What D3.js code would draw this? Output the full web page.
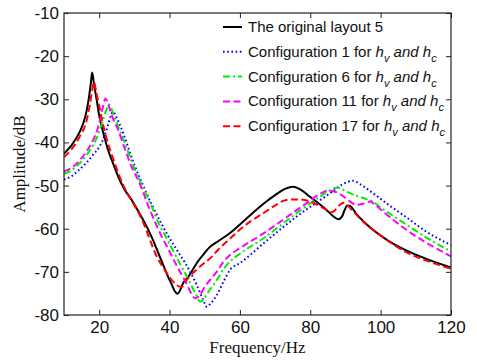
<!DOCTYPE html>
<html>
<head>
<meta charset="utf-8">
<script src="https://cdn.jsdelivr.net/npm/d3@7"></script>
<style>
  body { margin: 0; background: #fff; }
  svg { display: block; }
</style>
</head>
<body>
<svg id="chart" width="477" height="360"></svg>
<script>
// series values, [frequency Hz, amplitude dB]
const originalLayout = [
  [10,-42.6],[12,-40.8],[14.5,-37.5],[15.5,-35.5],[16.4,-32.8],[17.1,-29.5],[17.6,-26.5],[18,-23.8],
  [18.5,-26.3],[19.3,-30.2],[20.2,-34.6],[21,-37.3],[21.7,-39.4],[22.5,-41.7],[23.6,-44.1],[25.4,-47.9],
  [27,-50.6],[29.2,-53.3],[31,-55.8],[33,-58.7],[34.9,-61.9],[36.5,-65],[38.2,-68.4],[39.5,-71],
  [40.6,-72.9],[41.5,-74.5],[42.2,-75.1],[42.8,-74.6],[43.8,-72.7],[45.8,-70.6],[47.7,-68],[49.6,-66],
  [51,-64.6],[54,-62.8],[57.2,-61],[60,-59],[63,-56.8],[66.7,-54.2],[70,-52.2],[73,-50.7],[75,-50.3],
  [77,-50.8],[79.9,-52.6],[82.5,-54.2],[84.7,-55.7],[86.5,-57.1],[88,-57.8],[89,-57.2],[89.8,-55.6],
  [90.5,-54.6],[91.3,-54.7],[93,-56.5],[95,-58.2],[97.9,-60.3],[102,-62.7],[107.4,-65.1],[113,-67],[120,-69]
];
const config1 = [
  [10,-48.6],[12,-47.9],[14.5,-46.2],[16.5,-44.6],[18.3,-42.8],[20.2,-40.8],[21.5,-38.5],[22.5,-36],
  [23.3,-33.8],[24,-32.9],[24.7,-33.8],[25.5,-35.2],[26.9,-38],[28.5,-41.8],[30.2,-45.6],[32.5,-50],
  [35,-54.5],[37.8,-59],[40,-62.2],[42,-64.8],[44.9,-68.6],[47.7,-73],[49.5,-76.4],[50.6,-78.1],
  [51.5,-77.5],[53.4,-75.4],[55.5,-72],[57.2,-69.5],[60,-68],[66.7,-63.4],[76.1,-57.2],[85.6,-51.8],
  [89,-49.8],[92.2,-48.9],[94,-49.6],[97.9,-51.8],[102,-54.3],[107.4,-57.4],[113,-60.7],[120,-63.8]
];
const config6 = [
  [10,-47.3],[12,-46.5],[14.5,-44.8],[16.5,-42.8],[18.3,-40.6],[20,-37.5],[21,-35],[22,-32.5],
  [22.8,-31.2],[23.5,-32.2],[24.3,-34],[25.5,-36.5],[27,-39.6],[28.5,-42.8],[30,-46],[32.5,-50.5],
  [35,-55],[36.8,-58.6],[38.5,-61.2],[40.5,-64.3],[43,-68.2],[45.5,-72],[47.5,-75.2],[48.7,-76.9],
  [49.5,-76.5],[51,-74.7],[53.4,-71.9],[55.5,-69.2],[57.2,-67.6],[60,-65.8],[66.7,-62.2],[76.1,-56.4],
  [82,-53],[85,-51.4],[87.5,-50.5],[88.5,-50.6],[90,-51.3],[92,-52],[94,-52.6],[95.5,-53],[97.5,-53.6],
  [100,-55.1],[103.5,-57],[107.4,-59.1],[113.5,-62.3],[120,-65.3]
];
const config11 = [
  [10,-46.7],[12,-46],[14.5,-44.1],[16.5,-42],[18.3,-39.4],[19.5,-37],[20.3,-34.5],[21,-32],
  [21.8,-29.8],[22.5,-31],[23.3,-33],[24.3,-35.2],[25.4,-37.1],[27,-40.8],[29.2,-45.6],[31.5,-49.5],
  [34,-54.8],[35.9,-58.5],[37.3,-61],[40,-65.3],[42.5,-69.3],[45,-73],[46.3,-75.2],[47.2,-76.1],
  [48.5,-75.5],[50,-73.5],[53.4,-70],[55.5,-67.5],[57.2,-66.1],[60,-64.5],[66.7,-61.1],[76.1,-55.7],
  [80,-53.5],[83,-51.8],[85,-51.2],[86.5,-51.3],[88.9,-52.2],[91,-53.5],[93.2,-54.5],[95,-54.2],
  [97,-53.7],[98.5,-54.5],[100.8,-56.1],[104,-58.2],[107.4,-60.3],[113.5,-63.5],[120,-66.4]
];
const config17 = [
  [10,-43.4],[12,-41.7],[14.5,-38.6],[16.4,-35],[17.3,-31.5],[18,-28],[18.5,-26],[19.2,-28.5],
  [20,-31.5],[21,-35.5],[22,-38.8],[23,-41.5],[24,-43.8],[25.5,-47.3],[27,-50.2],[29.2,-53.5],
  [31,-56],[33,-59.5],[34.4,-62.5],[36,-65.8],[38.2,-69],[40,-71.2],[41.8,-72.9],[43.4,-73.5],
  [44.3,-72.6],[45.5,-71.2],[47.7,-69.5],[49.5,-68.2],[51.5,-66.9],[54,-64.7],[57.2,-62.3],[60,-60.2],
  [63,-58.3],[66.7,-56.4],[70,-54.6],[72.5,-53.5],[74.5,-53.2],[77,-53.2],[80,-53.7],[83,-54.9],
  [85,-55.8],[86.2,-56.1],[87.3,-55.5],[88.5,-54.4],[89.5,-54],[90.5,-54.5],[92,-55.8],[94,-57.5],
  [97,-59.8],[100,-61.6],[107.4,-65.5],[113,-67.4],[120,-69.3]
];

const xTicks = [20, 40, 60, 80, 100, 120];
const yTicks = [-80, -70, -60, -50, -40, -30, -20, -10];
const legendNames = [
  "The original layout 5",
  "Configuration 1 for",
  "Configuration 6 for",
  "Configuration 11 for",
  "Configuration 17 for"
];

const margin = {top: 13, right: 26, bottom: 45, left: 64};
const width = 477 - margin.left - margin.right;
const height = 360 - margin.top - margin.bottom;

const svg = d3.select("#chart");
const g = svg.append("g")
  .attr("transform", `translate(${margin.left},${margin.top})`);

const x = d3.scaleLinear().domain([10, 120]).range([0, width]);
const y = d3.scaleLinear().domain([-80, -10]).range([height, 0]);

const tickFont = "'Liberation Sans', Arial, sans-serif";
const plain = d => String(d); // keep the ascii hyphen like the original

// axes, ticks pointing inward like matlab
function styleAxis(sel, showText) {
  sel.select(".domain").remove();
  sel.selectAll(".tick line").attr("stroke", "#222").attr("stroke-width", 1);
  sel.selectAll(".tick text")
    .style("font-family", tickFont)
    .style("font-size", "17px")
    .attr("fill", "#111")
    .style("display", showText ? null : "none");
}

g.append("g")
  .attr("transform", `translate(0,${height})`)
  .call(d3.axisBottom(x).tickValues(xTicks).tickFormat(plain).tickSizeInner(-5).tickSizeOuter(0).tickPadding(6))
  .call(s => styleAxis(s, true));
g.append("g")
  .call(d3.axisTop(x).tickValues(xTicks).tickSizeInner(-5).tickSizeOuter(0))
  .call(s => styleAxis(s, false));
g.append("g")
  .call(d3.axisLeft(y).tickValues(yTicks).tickFormat(plain).tickSizeInner(-5).tickSizeOuter(0).tickPadding(5))
  .call(s => styleAxis(s, true));
g.append("g")
  .attr("transform", `translate(${width},0)`)
  .call(d3.axisRight(y).tickValues(yTicks).tickSizeInner(-5).tickSizeOuter(0))
  .call(s => styleAxis(s, false));

const line = d3.line()
  .x(d => x(d[0]))
  .y(d => y(d[1]))
  .curve(d3.curveMonotoneX);

const series = [
  {data: originalLayout, color: "#000000", dash: null},
  {data: config1, color: "#0000ff", dash: "1.6,2.6"},
  {data: config6, color: "#00ee00", dash: "7,3,2,3"},
  {data: config11, color: "#ff00ff", dash: "7,3.5"},
  {data: config17, color: "#ff0000", dash: "7,3.5"}
];

const clip = svg.append("defs").append("clipPath").attr("id", "plotclip");
clip.append("rect").attr("width", width).attr("height", height);

g.append("g").attr("clip-path", "url(#plotclip)")
  .selectAll("path")
  .data(series)
  .enter().append("path")
    .attr("d", d => line(d.data))
    .attr("fill", "none")
    .attr("stroke", d => d.color)
    .attr("stroke-width", 2)
    .attr("stroke-dasharray", d => d.dash);

// box
g.append("rect")
  .attr("width", width).attr("height", height)
  .attr("fill", "none").attr("stroke", "#222").attr("stroke-width", 1.2);

// legend
const legend = g.append("g").attr("transform", "translate(159,14)");
const rows = legend.selectAll("g")
  .data(series)
  .enter().append("g")
    .attr("transform", (d, i) => `translate(0,${i * 24.8})`);
rows.append("line")
  .attr("x1", 0).attr("x2", 19)
  .attr("stroke", d => d.color)
  .attr("stroke-width", 2)
  .attr("stroke-dasharray", d => d.dash);
const labels = rows.append("text")
  .attr("x", 25).attr("y", 5)
  .style("font-family", tickFont)
  .style("font-size", "15px")
  .attr("fill", "#111");
labels.append("tspan").text((d, i) => legendNames[i]);
labels.filter((d, i) => i > 0).each(function() {
  const t = d3.select(this);
  t.append("tspan").text(" h").style("font-style", "italic");
  t.append("tspan").text("v").style("font-style", "italic").style("font-size", "11px").attr("dy", 5);
  t.append("tspan").text(" and h").style("font-style", "italic").attr("dy", -5);
  t.append("tspan").text("c").style("font-style", "italic").style("font-size", "11px").attr("dy", 5);
});

// axis titles
svg.append("text")
  .attr("x", margin.left + width / 2)
  .attr("y", 353)
  .attr("text-anchor", "middle")
  .style("font-family", "'Liberation Serif', 'Times New Roman', serif")
  .style("font-size", "17px")
  .attr("fill", "#111")
  .text("Frequency/Hz");
svg.append("text")
  .attr("transform", `translate(25,${margin.top + height / 2}) rotate(-90)`)
  .attr("text-anchor", "middle")
  .style("font-family", "'Liberation Serif', 'Times New Roman', serif")
  .style("font-size", "17px")
  .attr("fill", "#111")
  .text("Amplitude/dB");
</script>
</body>
</html>
